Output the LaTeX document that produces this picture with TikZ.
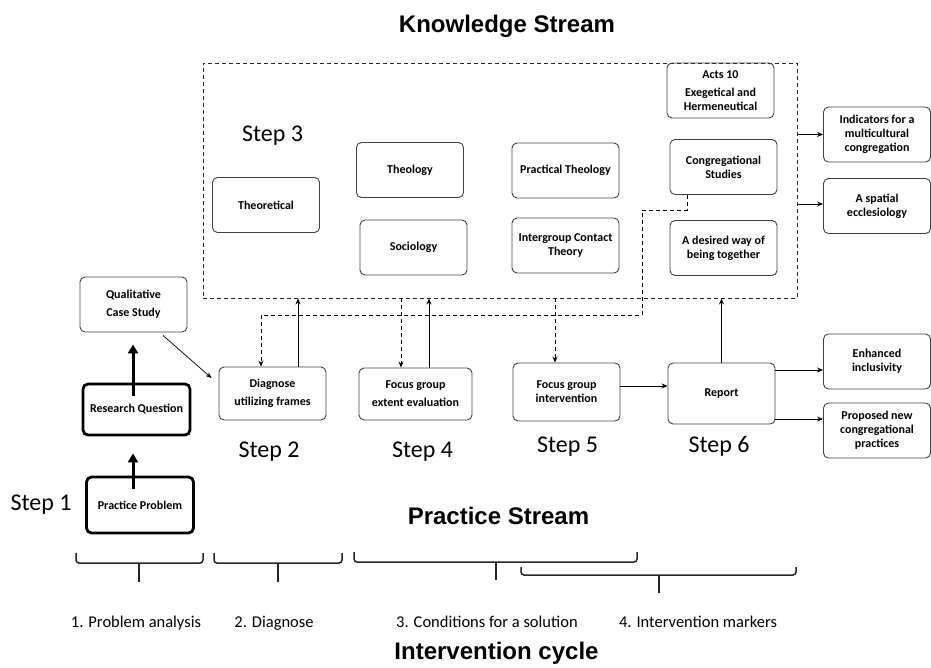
\documentclass[tikz,border=0pt]{standalone}
\usepackage{fontspec}
\setmainfont{Carlito}
\newfontfamily\headfont{Liberation Sans}
\usetikzlibrary{arrows.meta}
\tikzset{
	box/.style={ % plain rounded boxes
			draw=black!75,
			line width=0.9pt,
			rounded corners=5pt,
			align=center,
			inner sep=2pt,
			minimum width=107pt,
			minimum height=55pt,
			font=\bfseries\fontsize{12}{14}\selectfont
		},
	bigbox/.style={box, draw=black, line width=2.8pt}, % thick boxes on the left
	kframe/.style={draw=black!85, line width=0.9pt, dash pattern=on 4pt off 3pt},
	steplabel/.style={anchor=base, font=\fontsize{24}{28}\selectfont},
	streamtitle/.style={anchor=base, font=\headfont\bfseries\fontsize{24}{28}\selectfont},
	phaselabel/.style={anchor=base, font=\fontsize{16.5}{20}\selectfont},
	arr/.style={-{Stealth[length=6pt,width=5pt]}, line width=0.9pt},
	dasharr/.style={arr, dash pattern=on 4pt off 3pt},
	fatarr/.style={-{Triangle[length=9pt,width=10pt]}, line width=3pt},
	brace/.style={line width=1.5pt, black!85, rounded corners=3pt}
}

\begin{document}
\begin{tikzpicture}[x=1pt,y=-1pt]
\useasboundingbox (0,0) rectangle (931,667);

% titles
\node[streamtitle] (ktitle) at (507,32) {Knowledge Stream};
\node[streamtitle] (ptitle) at (498.5,524) {Practice Stream};
\node[streamtitle] (ctitle) at (496.5,659) {Intervention cycle};

% knowledge stream
\node[kframe, minimum width=594pt, minimum height=235pt] (frame) at (500,180.5) {};
\node[steplabel] (step3) at (272.5,141) {Step 3};
\node[box] (theo) at (266,205) {Theoretical};
\node[box] (theol) at (410,170) {Theology};
\node[box] (soc) at (413.5,247.5) {Sociology};
\node[box] (prac) at (565.5,170.5) {Practical Theology};
\node[box] (inter) at (565.5,245.5) {Intergroup Contact\\Theory};
\node[box] (acts) at (720.5,90.5) {Acts 10\\[4pt]Exegetical and\\Hermeneutical};
\node[box] (cong) at (723.5,167) {Congregational\\Studies};
\node[box] (desired) at (723.5,248) {A desired way of\\being together};
\node[box] (ind) at (877,134.5) {Indicators for a\\multicultural\\congregation};
\node[box] (spatial) at (877,206) {A spatial\\ecclesiology};

% practice stream
\node[box] (qual) at (133.5,304.5) {Qualitative\\[4pt]Case Study};
\node[bigbox, minimum height=51pt] (rq) at (136.5,409.5) {Research Question};
\node[bigbox, minimum height=56pt] (pp) at (140,505) {Practice Problem};
\node[box, minimum height=53pt] (diag) at (272.5,393.5) {Diagnose\\[4pt]utilizing frames};
\node[box, minimum width=113pt, minimum height=52pt] (fge) at (415.5,394) {Focus group\\[4pt]extent evaluation};
\node[box, minimum height=58pt] (fgi) at (566.5,392) {Focus group\\intervention};
\node[box, minimum height=61pt] (report) at (721.5,393.5) {Report};
\node[box] (enh) at (877,361.5) {Enhanced\\inclusivity};
\node[box] (prop) at (877,430.5) {Proposed new\\congregational\\practices};

\node[steplabel] (step1) at (41,510) {Step 1};
\node[steplabel] (step2) at (269,457) {Step 2};
\node[steplabel] (step4) at (422.5,457) {Step 4};
\node[steplabel] (step5) at (567.5,452) {Step 5};
\node[steplabel] (step6) at (719,452) {Step 6};

% connectors
\draw[fatarr] ([xshift=-7pt,yshift=-13pt]pp.north) -- ([xshift=-3.5pt,yshift=-17pt]rq.south);
\draw[fatarr] ([xshift=-3.5pt,yshift=-13pt]rq.north) -- ([xshift=-0.5pt,yshift=-12pt]qual.south);
\draw[arr, line width=0.7pt] ([xshift=29.5pt,yshift=-3pt]qual.south) -- ([xshift=-7pt,yshift=15.5pt]diag.west);
\draw[arr] ([xshift=25.5pt]diag.north) -- ([xshift=25.5pt]diag.north |- frame.south);
\draw[arr] ([xshift=13.5pt]fge.north) -- ([xshift=13.5pt]fge.north |- frame.south);
\draw[arr] (report.north) -- (report.north |- frame.south);
\draw[dasharr] ([xshift=-14.5pt]fge.north |- frame.south) -- ([xshift=-14.5pt]fge.north);
\draw[dasharr] ([xshift=-11.5pt]fgi.north |- frame.south) -- ([xshift=-11.5pt]fgi.north);
\draw[dasharr] ([xshift=-36.5pt]cong.south) -- ++(0,15) -| (642,315) -| ([xshift=-11.5pt]diag.north);
\draw[arr] (fgi.east |- 0,386) -- (report.west |- 0,386);
\draw[arr] (report.east |- 0,370) -- (enh.west |- 0,370);
\draw[arr] (report.east |- 0,419) -- (prop.west |- 0,419);
\draw[arr] (frame.east |- ind) -- (ind.west);
\draw[arr] (frame.east |- 0,204) -- (spatial.west |- 0,204);

% intervention cycle braces
\draw[brace] (76,553) -- (76,563) -- (203,563) -- (203,553);
\draw[brace] (139,563) -- (139,582);
\draw[brace] (214,553) -- (214,563) -- (342,563) -- (342,553);
\draw[brace] (278,563) -- (278,582);
\draw[brace] (354,552) -- (354,562) -- (637,562) -- (637,552);
\draw[brace] (496,562) -- (496,580);
\draw[brace] (521,567) -- (521,575) -- (796,575) -- (796,567);
\draw[brace] (659,575) -- (659,593);

\node[phaselabel] (ph1) at (136,627) {1. Problem analysis};
\node[phaselabel] (ph2) at (274,627) {2. Diagnose};
\node[phaselabel] (ph3) at (487,627) {3. Conditions for a solution};
\node[phaselabel] (ph4) at (698,627) {4. Intervention markers};
\end{tikzpicture}
\end{document}
